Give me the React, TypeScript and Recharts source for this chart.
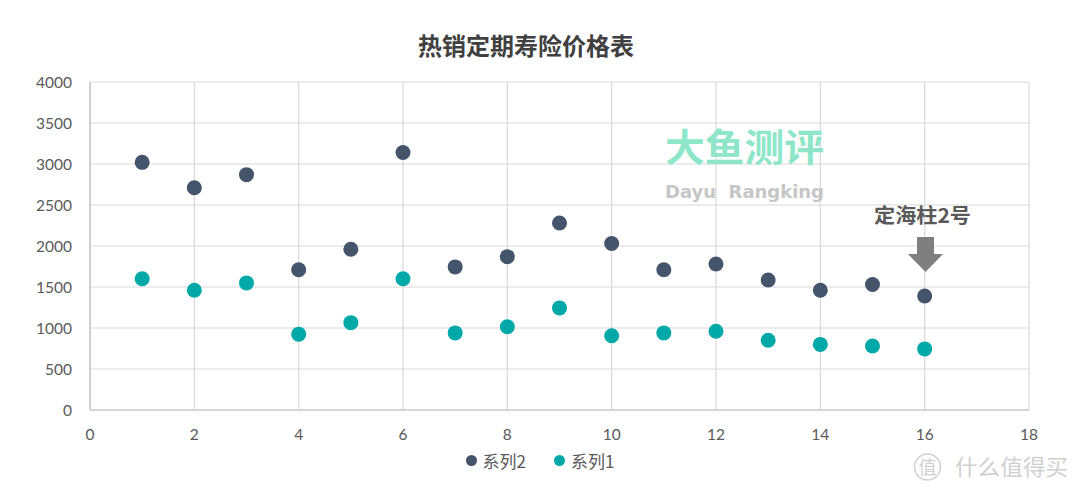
import { ScatterChart, Scatter, XAxis, YAxis, CartesianGrid, Legend } from "recharts";

const xValues = [1, 2, 3, 4, 5, 6, 7, 8, 9, 10, 11, 12, 13, 14, 15, 16];
const series2 = [3020, 2710, 2870, 1710, 1960, 3140, 1745, 1870, 2280, 2030, 1710, 1780, 1585, 1460, 1530, 1390];
const series1 = [1600, 1460, 1550, 925, 1065, 1600, 940, 1015, 1245, 905, 940, 960, 850, 800, 780, 745];
const xTicks = [0, 2, 4, 6, 8, 10, 12, 14, 16, 18];
const yTicks = [0, 500, 1000, 1500, 2000, 2500, 3000, 3500, 4000];
const legendOrder = ["系列2", "系列1"];

const data2 = xValues.map((x, i) => ({ x, y: series2[i] }));
const data1 = xValues.map((x, i) => ({ x, y: series1[i] }));

const DARK = "#44546A";
const TEAL = "#00A8A8";
const tickStyle = { fill: "#595959", fontSize: 15.5, fontFamily: "Lato, sans-serif" };
const cjk = "'Noto Sans CJK SC', sans-serif";

const dot = (color: string) => (p: { cx?: number; cy?: number }) => (
  <circle cx={p.cx} cy={p.cy} r={7.5} fill={color} />
);

// legend order like the excel original: 系列2 first
const LegendContent = ({ payload }: { payload?: { value: string; color: string }[] }) => {
  const items = [...(payload ?? [])].sort((a, b) => legendOrder.indexOf(a.value) - legendOrder.indexOf(b.value));
  return (
    <div style={{ display: "flex", justifyContent: "center", gap: 28, fontFamily: cjk, fontSize: 17, color: "#595959" }}>
      {items.map((p) => (
        <div key={p.value} style={{ display: "flex", alignItems: "center", gap: 6 }}>
          <span style={{ width: 11, height: 11, borderRadius: "50%", background: p.color, display: "inline-block" }} />
          <span>{p.value}</span>
        </div>
      ))}
    </div>
  );
};

export default function App() {
  return (
    <div style={{ position: "absolute", top: 0, left: 0, width: 1080, height: 495, background: "#fff" }}>
      <ScatterChart width={1080} height={495} margin={{ top: 82, right: 51, bottom: 53, left: 0 }}>
        <CartesianGrid stroke="#d9d9d9" strokeWidth={1.2} />
        <XAxis
          type="number"
          dataKey="x"
          domain={[0, 18]}
          ticks={xTicks}
          tick={tickStyle}
          tickLine={false}
          tickMargin={13}
          height={32}
          axisLine={{ stroke: "#bfbfbf", strokeWidth: 1.2 }}
        />
        <YAxis
          type="number"
          dataKey="y"
          domain={[0, 4000]}
          ticks={yTicks}
          tick={tickStyle}
          tickLine={false}
          tickMargin={12}
          width={90}
          axisLine={{ stroke: "#bfbfbf", strokeWidth: 1.2 }}
        />
        <Legend
          verticalAlign="middle"
          align="center"
          wrapperStyle={{ top: 448, left: 0, width: 1080 }}
          content={<LegendContent />}
        />
        <Scatter name="系列2" data={data2} fill={DARK} shape={dot(DARK)} isAnimationActive={false} />
        <Scatter name="系列1" data={data1} fill={TEAL} shape={dot(TEAL)} isAnimationActive={false} />
      </ScatterChart>
      <svg width={1080} height={495} style={{ position: "absolute", top: 0, left: 0, pointerEvents: "none" }}>
        <text x={526} y={55} textAnchor="middle" fontFamily={cjk} fontWeight={700} fontSize={24} fill="#404040">
          热销定期寿险价格表
        </text>
        <text x={665} y={161} fontFamily={cjk} fontWeight={700} fontSize={38} fill="#8EE6C9" textLength={159} lengthAdjust="spacingAndGlyphs">
          大鱼测评
        </text>
        <text x={665} y={198} fontFamily="'DejaVu Sans', sans-serif" fontWeight={700} fontSize={18} fill="#c6c6c6" textLength={159} lengthAdjust="spacingAndGlyphs" xmlSpace="preserve">
          Dayu  Rangking
        </text>
        <text x={874} y={223} fontFamily={cjk} fontWeight={700} fontSize={20} fill="#595959" textLength={97} lengthAdjust="spacingAndGlyphs">
          定海柱2号
        </text>
        <polygon points="917,237 934,237 934,254 943,254 925.5,272 908,254 917,254" fill="#7f7f7f" />
        <circle cx={927.5} cy={467} r={13} fill="none" stroke="#d0d0d0" strokeWidth={1.5} />
        <text x={927.5} y={474} textAnchor="middle" fontFamily={cjk} fontSize={18} fill="#d0d0d0">
          值
        </text>
        <text x={955} y={475} fontFamily={cjk} fontSize={22} fill="#d0d0d0" textLength={113} lengthAdjust="spacingAndGlyphs">
          什么值得买
        </text>
      </svg>
    </div>
  );
}
